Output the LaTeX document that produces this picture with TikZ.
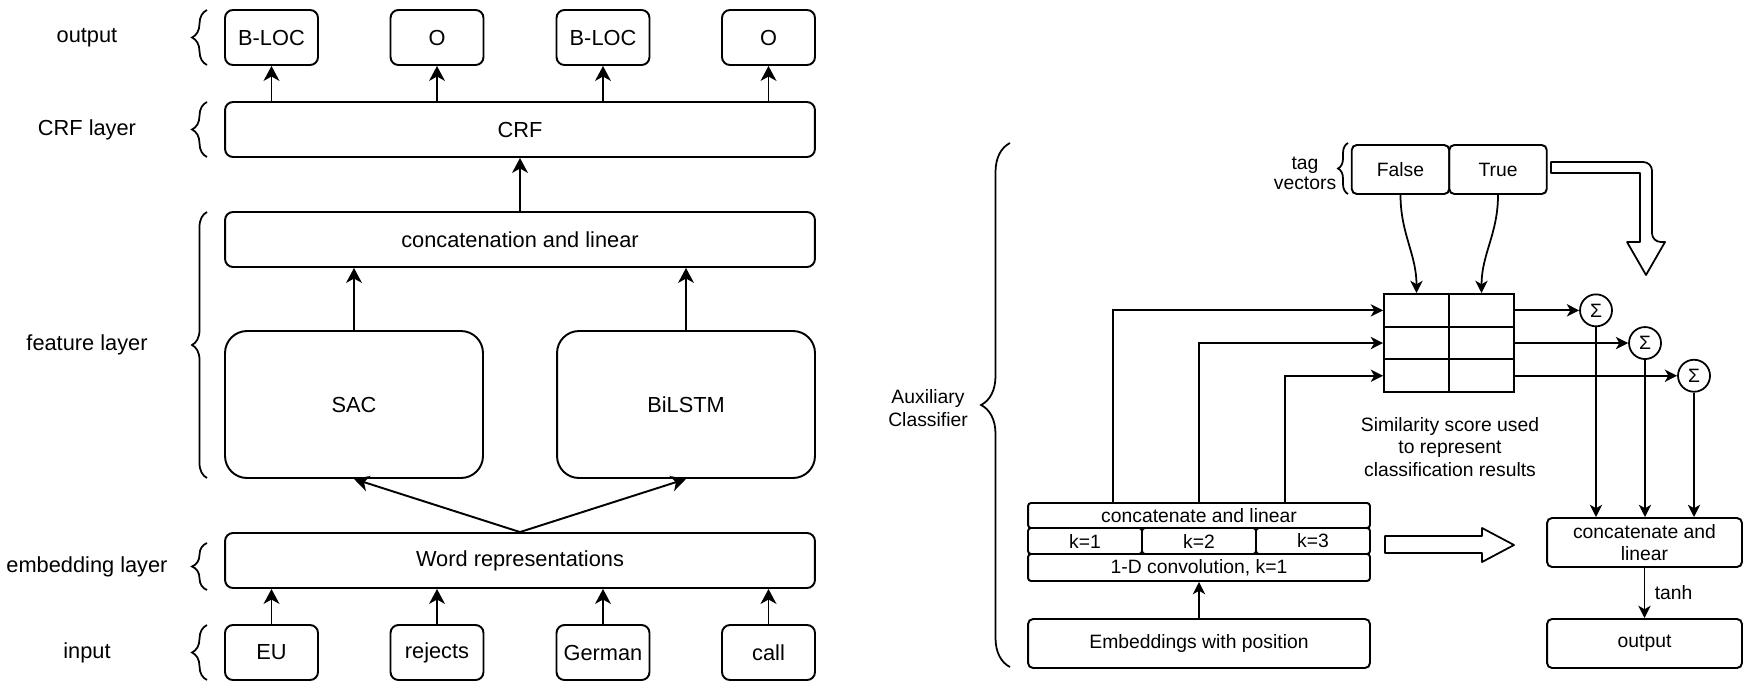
\documentclass[tikz,border=0pt]{standalone}
\usepackage{fontspec}
\setmainfont{Liberation Sans}
\usetikzlibrary{calc,positioning,decorations.pathreplacing,arrows.meta}
\tikzset{
	roundbox/.style={
		draw,
		line width=1.1pt,
		rounded corners=0.16cm,
		inner sep=0pt,
		font=\fontsize{12.4}{14.5}\selectfont
	},
	tokenbox/.style={roundbox, minimum width=1.86cm, minimum height=1.1cm},
	layerbox/.style={roundbox, minimum width=11.8cm, minimum height=1.1cm},
	featurebox/.style={roundbox, rounded corners=0.44cm, minimum width=5.16cm, minimum height=2.94cm},
	connection/.style={
		-{Stealth[length=8.5pt,width=9pt,inset=2.5pt]},
		line width=1.1pt
	},
	layerbrace/.style={
		decorate,
		decoration={brace, amplitude=#1},
		line width=1pt
	},
	layerbrace/.default=0.3cm,
	layerlabel/.style={font=\fontsize{12.4}{14.5}\selectfont}
}

\begin{document}
\begin{tikzpicture}[x=0.02cm, y=-0.02cm]

	\useasboundingbox (0, 0) rectangle (1750, 693);

	%% Tagging model
	\foreach \i/\x/\tag/\word in {1/271.5/B-LOC/EU, 2/437/O/rejects, 3/603/B-LOC/German, 4/768.5/O/call} {
		\node[tokenbox] (out\i) at (\x, 37.5) {\tag};
		\node[tokenbox] (in\i) at (\x, 652.5) {\word};
	}

	\node[layerbox] (crf) at (520, 129.5) {CRF};
	\node[layerbox] (concat) at (520, 239.5) {concatenation and linear};
	\node[featurebox] (sac) at (354, 404.5) {SAC};
	\node[featurebox] (bilstm) at (686, 404.5) {BiLSTM};
	\node[layerbox] (words) at (520, 560.5) {Word representations};

	\foreach \i in {1,...,4} {
		\draw[connection] (in\i) -- (in\i |- words.south);
		\draw[connection] (out\i |- crf.north) -- (out\i);
	}
	\draw[connection] (concat) -- (crf);
	\draw[connection] (sac) -- (sac |- concat.south);
	\draw[connection] (bilstm) -- (bilstm |- concat.south);
	\draw[connection] (words.north) -- (sac.south);
	\draw[connection] (words.north) -- (bilstm.south);

	% Layer labels
	\foreach \i/\lab/\top/\bot in {1/output/10/65, 2/CRF layer/102/157, 3/feature layer/212/478, 4/embedding layer/543/590, 5/input/625/680} {
		\draw[layerbrace] (207, \bot) -- (207, \top);
		\node[layerlabel] (lab\i) at (87, {(\top + \bot) / 2}) {\lab};
	}

	%% Auxiliary classifier
	\begin{scope}[
		smallbox/.style={roundbox, rounded corners=0.1cm, font=\fontsize{11}{12.5}\selectfont},
		stackbox/.style={smallbox, rounded corners=0.06cm},
		cell/.style={draw, line width=1.1pt, minimum width=1.3cm, minimum height=0.654cm, inner sep=0pt},
		sumnode/.style={draw, circle, line width=1pt, minimum size=0.64cm, inner sep=0pt, font=\fontsize{11}{12}\selectfont},
		sconnection/.style={-{Stealth[length=7pt,width=7pt,inset=2pt]}, line width=1pt},
		note/.style={align=center, font=\fontsize{11}{12.7}\selectfont}
	]

		% Tag vectors
		\node[smallbox, minimum width=1.95cm, minimum height=0.98cm] (tagfalse) at (1400.5, 169.5) {False};
		\node[smallbox, minimum width=1.95cm, minimum height=0.98cm] (tagtrue) at (1498, 169.5) {True};
		\node[note, font=\fontsize{11}{11.3}\selectfont] (taglabel) at (1305, 173) {tag\\vectors};
		\draw[layerbrace=0.2cm] (1348, 194) -- (1348, 143);

		% Score grid and sums
		\foreach \r in {1,2,3} {
			\foreach \c in {1,2} {
				\node[cell] (cell\r\c) at ({1384 + 65 * (\c - 0.5)}, {294 + 32.7 * (\r - 0.5)}) {};
			}
			\node[sumnode] (sum\r) at ({1596 + 49 * (\r - 1)}, {294 + 32.7 * (\r - 0.5)}) {Σ};
		}
		\node[note] (simnote) at (1450, 447) {Similarity score used\\to represent\\classification results};

		% Convolution stack
		\node[stackbox, minimum width=6.84cm, minimum height=0.5cm] (cat) at (1199, 515.5) {concatenate and linear};
		\foreach \k/\x in {1/1085, 2/1199, 3/1313} {
			\node[stackbox, minimum width=2.28cm, minimum height=0.52cm] (k\k) at (\x, 541) {k=\k};
		}
		\node[stackbox, minimum width=6.84cm, minimum height=0.54cm] (conv) at (1199, 567.5) {1-D convolution, k=1};
		\node[smallbox, minimum width=6.84cm, minimum height=0.98cm] (emb) at (1199, 643.5) {Embeddings with position};

		% Output side
		\node[smallbox, align=center, minimum width=3.9cm, minimum height=0.98cm] (rcat) at (1644.5, 542.5) {concatenate and\\linear};
		\node[smallbox, minimum width=3.9cm, minimum height=0.98cm] (result) at (1644.5, 643.5) {output};

		\node[note, font=\fontsize{11}{13.5}\selectfont] (auxlabel) at (928, 408) {Auxiliary\\Classifier};
		\draw[layerbrace=0.58cm] (1010, 667) -- (1010, 143);

		% Connectors
		\draw[sconnection] (emb) -- (conv);
		\foreach \r/\f in {1/0.25, 2/0.5, 3/0.75} {
			\draw[sconnection] ($(cat.north west)!\f!(cat.north east)$) |- (cell\r1.west);
			\draw[sconnection] (cell\r2.east) -- (sum\r.west);
			\draw[sconnection] (sum\r) -- (sum\r |- rcat.north);
		}
		\draw[sconnection] (tagfalse.south) to[out=-90, in=90] (cell11.north);
		\draw[sconnection] (tagtrue.south) to[out=-90, in=90] (cell12.north);
		\draw[sconnection] (rcat) -- node[note, right=2pt] (tanh) {tanh} (result);

		% Hollow arrows
		\draw[line width=1pt, line join=round] (1385, 536) -- (1482, 536) -- (1482, 528) -- (1514, 545) -- (1482, 562) -- (1482, 553) -- (1385, 553) -- cycle;
		\draw[line width=1pt, line join=round] (1551, 162) {[rounded corners=5pt] -- (1652, 162) -- (1652, 242)} -- (1665, 242) -- (1646, 275) -- (1627, 242) -- (1640, 242) -- (1640, 173) -- (1551, 173) -- cycle;
	\end{scope}

\end{tikzpicture}
\end{document}
